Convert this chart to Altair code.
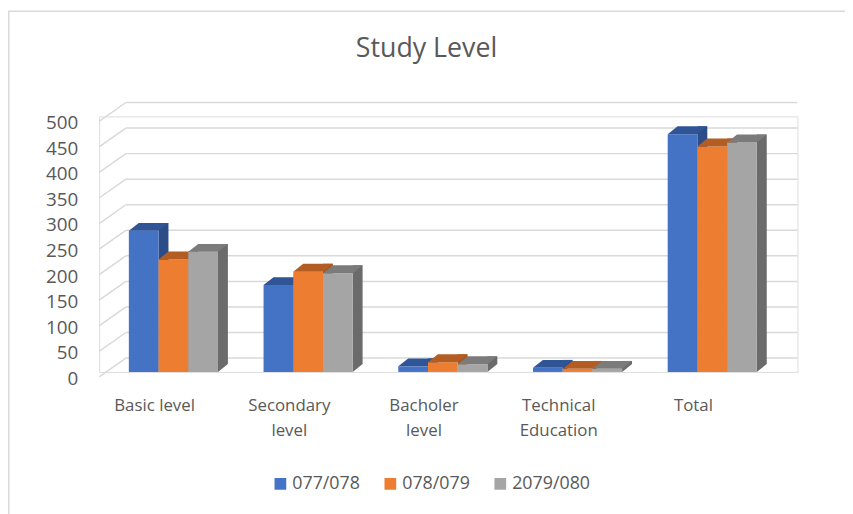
import altair as alt
import pandas as pd

categories = ["Basic level", "Secondary level", "Bacholer level", "Technical Education", "Total"]
series = ["077/078", "078/079", "2079/080"]
values_077_078 = [276, 170, 11, 8, 465]
values_078_079 = [220, 196, 19, 6, 441]
values_2079_080 = [235, 193, 15, 6, 449]
y_ticks = [0, 50, 100, 150, 200, 250, 300, 350, 400, 450, 500]

front_colors = ["#4472C4", "#ED7D31", "#A5A5A5"]
top_colors = ["#2F5597", "#B35D22", "#7B7B7B"]
side_colors = ["#2B4C87", "#A9561E", "#6B6B6B"]
TEXT = "#595959"
GRID = "#D9D9D9"
FONT = "Open Sans"

rows = []
for s, vals in zip(series, [values_077_078, values_078_079, values_2079_080]):
    for c, v in zip(categories, vals):
        rows.append({"category": c, "series": s, "value": v})
df = pd.DataFrame(rows)
grid_df = pd.DataFrame({"tick": y_ticks})
cat_df = pd.DataFrame({"category": categories})
frame_df = pd.DataFrame({"frame": [0]})

W, H = 705, 258
BAR = 0.3    # front face width as a fraction of the group band
DEPTH = 0.1  # side face width as a fraction of the group band

x_scale = alt.Scale(domain=categories, range=[7, 697],
                    paddingInner=36 / 136, paddingOuter=23 / 136)
y_scale = alt.Scale(domain=[0, 500], nice=False)
color_scale = alt.Scale(domain=series, range=front_colors)

legend = alt.Legend(title=None, orient="none", legendX=174, legendY=362,
                    direction="horizontal", symbolType="square", symbolSize=140,
                    symbolStrokeWidth=0, labelFont=FONT, labelFontSize=18,
                    labelColor=TEXT, columnPadding=21, labelOffset=3)

frame = alt.Chart(frame_df).mark_rect(fillOpacity=0, stroke=GRID, strokeWidth=1.5).encode(
    x=alt.value(-91.25), x2=alt.value(780), y=alt.value(-106.25), y2=alt.value(450)
)

back_grid = alt.Chart(grid_df).mark_rule(color=GRID, strokeWidth=1.5, yOffset=-14).encode(
    x=alt.value(27), x2=alt.value(705),
    y=alt.Y("tick:Q", scale=y_scale, axis=None),
)
side_grid = alt.Chart(grid_df).mark_rule(color=GRID, strokeWidth=1.5, yOffset=5, y2Offset=-14).encode(
    x=alt.value(0), x2=alt.value(27),
    y=alt.Y("tick:Q", scale=y_scale, axis=None), y2=alt.Y2("tick"),
)

# value labels of the vertical axis, placed through the y scale
y_labels = alt.Chart(grid_df).mark_text(align="right", baseline="middle", dy=7,
                                        font=FONT, fontSize=19, color=TEXT).encode(
    x=alt.value(-21),
    y=alt.Y("tick:Q", scale=y_scale, axis=None),
    text=alt.Text("tick:Q"),
)

# category labels, placed through the x scale, long names wrapped on two lines
x_labels = alt.Chart(cat_df).transform_calculate(
    label="length(datum.category) > 11 ? replace(datum.category, ' ', '\\n') : datum.category"
).mark_text(align="center", baseline="alphabetic", lineBreak="\n", lineHeight=26,
            dx=-24, font=FONT, fontSize=17, color=TEXT).encode(
    x=alt.X("category:N", scale=x_scale, axis=None),
    y=alt.value(H + 39),
    text=alt.Text("label:N"),
)

layers = [frame, back_grid, side_grid, y_labels, x_labels]
for j, s in enumerate(series):
    sub = alt.Chart(df).transform_filter(alt.datum.series == s)
    side = sub.mark_bar(color=side_colors[j], yOffset=-8, y2Offset=-8).encode(
        x=alt.X("category:N", bandPosition=(j + 1) * BAR, scale=x_scale, axis=None),
        x2=alt.X2("category", bandPosition=(j + 1) * BAR + DEPTH),
        y=alt.Y("value:Q", scale=y_scale, axis=None),
        y2=alt.datum(0),
    )
    tri = sub.mark_point(shape="M0,0 L0,-1.6 L2,-1.6 Z", size=100, filled=True,
                         opacity=1, strokeWidth=0, color=side_colors[j]).encode(
        x=alt.X("category:N", bandPosition=(j + 1) * BAR, scale=x_scale, axis=None),
        y=alt.Y(datum=0, scale=y_scale, axis=None),
    )
    front = sub.mark_bar().encode(
        x=alt.X("category:N", bandPosition=j * BAR, scale=x_scale, axis=None),
        x2=alt.X2("category", bandPosition=(j + 1) * BAR),
        y=alt.Y("value:Q", scale=y_scale, axis=None),
        y2=alt.datum(0),
        color=alt.Color("series:N", scale=color_scale, legend=legend),
    )
    top = sub.mark_point(shape="M-3,0 L3,0 L5,-1.6 L-1,-1.6 Z", size=100, filled=True,
                         opacity=1, strokeWidth=0, color=top_colors[j]).encode(
        x=alt.X("category:N", bandPosition=(j + 0.5) * BAR, scale=x_scale, axis=None),
        y=alt.Y("value:Q", scale=y_scale, axis=None),
    )
    layers += [side, tri, front, top]

chart = alt.layer(*layers).properties(
    width=W, height=H,
    autosize=alt.AutoSizeParams(type="none"),
    padding={"left": 92, "top": 107, "right": 48, "bottom": 141},
    title=alt.TitleParams("Study Level", font=FONT, fontSize=27, fontWeight="normal",
                          color=TEXT, anchor="middle", dx=-22, offset=0, dy=74,
                          baseline="alphabetic"),
).configure_view(stroke=None).configure(background="white")

chart.save("out.html", embed_options={"renderer": "svg", "actions": False})
